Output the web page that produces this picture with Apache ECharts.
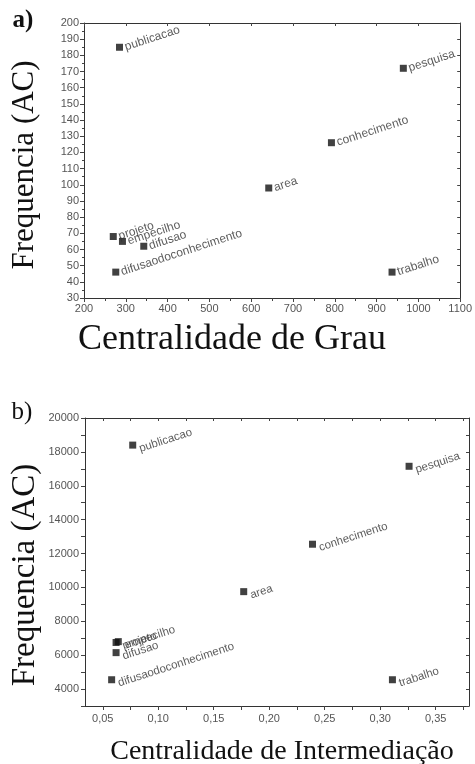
<!DOCTYPE html>
<html>
<head>
<meta charset="utf-8">
<script src="https://cdn.jsdelivr.net/npm/echarts@6/dist/echarts.min.js"></script>
<style>
  html, body { margin: 0; padding: 0; background: #fff; }
  #chart { width: 475px; height: 764px; }
</style>
</head>
<body>
<div id="chart"></div>
<script>
// a) centralidade de grau x frequencia
const termsA = ['publicacao', 'pesquisa', 'conhecimento', 'area', 'projeto', 'empecilho', 'difusao', 'difusaodoconhecimento', 'trabalho']
const grauA = [285, 964, 792, 642, 270, 292, 343, 276, 937]
const freqA = [185, 172, 126, 98, 68, 65, 62, 46, 46]

// b) centralidade de intermediacao x frequencia
const termsB = ['publicacao', 'pesquisa', 'conhecimento', 'area', 'projeto', 'empecilho', 'difusao', 'difusaodoconhecimento', 'trabalho']
const interB = [0.077, 0.326, 0.239, 0.177, 0.062, 0.064, 0.062, 0.058, 0.311]
const freqB = [18400, 17150, 12550, 9750, 6750, 6800, 6150, 4550, 4550]

const xTicksB = [0.05, 0.075, 0.10, 0.125, 0.15, 0.175, 0.20, 0.225, 0.25, 0.275, 0.30, 0.325, 0.35, 0.375]
const xLabelsB = [0.05, 0.10, 0.15, 0.20, 0.25, 0.30, 0.35]
const yLabelsB = [4000, 6000, 8000, 10000, 12000, 14000, 16000, 18000, 20000]

const dataA = termsA.map((t, i) => [grauA[i], freqA[i], t])
const dataB = termsB.map((t, i) => [interB[i], freqB[i], t])

const serif = '"Liberation Serif", "Times New Roman", serif'
const sans = '"Liberation Sans", Arial, sans-serif'

const axisLine = { show: true, lineStyle: { color: '#333', width: 1 } }
const lbl = { color: '#555', fontSize: 11, fontFamily: sans, formatter: v => String(v) }

// eixo espelho (caixa em volta do grafico)
const mirror = (extra) => Object.assign({
  axisLine: axisLine,
  axisLabel: { show: false },
  axisTick: { show: true, inside: true, length: 3, lineStyle: { color: '#444' } },
  splitLine: { show: false }
}, extra)

const pointLabel = (size, offset) => ({
  show: true,
  position: 'right',
  rotate: 18,
  distance: 2,
  offset: offset,
  color: '#333',
  fontSize: size,
  fontFamily: sans,
  formatter: p => p.data[2]
})

var myChart = echarts.init(document.getElementById('chart'))

var option = {
  animation: false,
  grid: [
    { left: 84, top: 23, right: 12, height: 275 },
    { left: 85, top: 418, right: 6, height: 288 }
  ],
  xAxis: [
    {
      gridIndex: 0, type: 'value', min: 200, max: 1100, interval: 100,
      axisLine: axisLine,
      axisTick: { show: true, length: 4, lineStyle: { color: '#444' } },
      minorTick: { show: true, splitNumber: 2, length: 3, lineStyle: { color: '#444' } },
      axisLabel: Object.assign({}, lbl, { margin: 5 }),
      splitLine: { show: false }
    },
    mirror({ gridIndex: 0, type: 'value', position: 'top', min: 200, max: 1100, interval: 100 }),
    {
      gridIndex: 1, type: 'value', min: 0.034, max: 0.38,
      axisLine: axisLine,
      axisTick: { show: true, length: 4, customValues: xTicksB, lineStyle: { color: '#444' } },
      axisLabel: Object.assign({}, lbl, {
        margin: 7,
        customValues: xLabelsB,
        formatter: v => v.toFixed(2).replace('.', ',')
      }),
      splitLine: { show: false }
    },
    mirror({ gridIndex: 1, type: 'value', position: 'top', min: 0.034, max: 0.38,
      axisTick: { show: true, inside: true, length: 3, customValues: xTicksB, lineStyle: { color: '#444' } } })
  ],
  yAxis: [
    {
      gridIndex: 0, type: 'value', min: 30, max: 200, interval: 10,
      axisLine: axisLine,
      axisTick: { show: true, length: 4, lineStyle: { color: '#444' } },
      minorTick: { show: true, splitNumber: 2, length: 2, lineStyle: { color: '#444' } },
      axisLabel: Object.assign({}, lbl, { margin: 5 }),
      splitLine: { show: false }
    },
    mirror({ gridIndex: 0, type: 'value', position: 'right', min: 30, max: 200, interval: 10 }),
    {
      gridIndex: 1, type: 'value', min: 3000, max: 20000, interval: 1000,
      axisLine: axisLine,
      axisTick: { show: true, length: 4, lineStyle: { color: '#444' } },
      axisLabel: Object.assign({}, lbl, { margin: 6, customValues: yLabelsB }),
      splitLine: { show: false }
    },
    mirror({ gridIndex: 1, type: 'value', position: 'right', min: 3000, max: 20000, interval: 1000 })
  ],
  series: [
    {
      type: 'scatter', xAxisIndex: 0, yAxisIndex: 0,
      symbol: 'rect', symbolSize: 7,
      itemStyle: { color: '#111' },
      label: pointLabel(12, [0, 0]),
      data: dataA
    },
    {
      type: 'scatter', xAxisIndex: 2, yAxisIndex: 2,
      symbol: 'rect', symbolSize: 7,
      itemStyle: { color: '#111' },
      label: pointLabel(11.5, [0, 4]),
      data: dataB
    }
  ],
  graphic: [
    { type: 'text', x: 23, y: 21, style: { text: 'a)', font: 'bold 25px ' + serif, fill: '#111', align: 'center', verticalAlign: 'middle' } },
    { type: 'text', x: 22, y: 412, style: { text: 'b)', font: '25px ' + serif, fill: '#111', align: 'center', verticalAlign: 'middle' } },
    { type: 'text', x: 25, y: 165, rotation: Math.PI / 2, style: { text: 'Frequencia (AC)', font: '31px ' + serif, fill: '#111', align: 'center', verticalAlign: 'middle' } },
    { type: 'text', x: 232, y: 340, style: { text: 'Centralidade de Grau', font: '36px ' + serif, fill: '#111', align: 'center', verticalAlign: 'middle' } },
    { type: 'text', x: 25, y: 575, rotation: Math.PI / 2, style: { text: 'Frequencia (AC)', font: '33px ' + serif, fill: '#111', align: 'center', verticalAlign: 'middle' } },
    { type: 'text', x: 282, y: 752, style: { text: 'Centralidade de Intermediação', font: '28px ' + serif, fill: '#111', align: 'center', verticalAlign: 'middle' } }
  ]
}

myChart.setOption(option)
</script>
</body>
</html>
